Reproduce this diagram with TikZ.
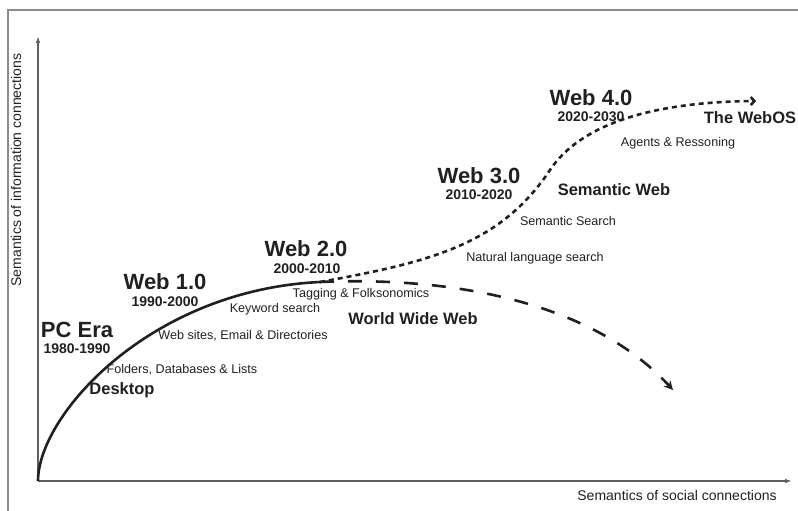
\documentclass[tikz,border=0pt]{standalone}
\usepackage{fontspec}
\setmainfont{Liberation Sans}
\usetikzlibrary{arrows.meta}

\begin{document}
\begin{tikzpicture}[
    x=1pt, y=-1pt,
    font=\fontsize{12.6}{14}\selectfont,
    >=latex,
]

\definecolor{frameCol}{RGB}{140, 140, 140}
\definecolor{axisCol}{RGB}{95, 95, 95}
\definecolor{inkCol}{RGB}{35, 31, 32}

\tikzset{
    era_label/.style  = {font=\fontsize{22}{24}\selectfont\bfseries, text=inkCol, inner sep=0pt},
    year_label/.style = {font=\fontsize{14}{16}\selectfont\bfseries, text=inkCol, inner sep=0pt},
    kind_label/.style = {font=\fontsize{16.5}{18}\selectfont\bfseries, text=inkCol, inner sep=0pt},
    item_label/.style = {font=\fontsize{12.6}{14}\selectfont, text=inkCol, inner sep=0pt},
    axis_label/.style = {font=\fontsize{14}{16}\selectfont, text=inkCol, inner sep=0pt},
    axis_line/.style  = {axisCol, line width=1.2pt, -{Latex[length=7pt, width=4.5pt]}},
    web_line/.style   = {inkCol, line width=2.6pt},
    future_line/.style = {web_line, dash pattern=on 5pt off 4pt, -{Straight Barb[length=3.5pt, width=8pt, line width=2.6pt]}},
    www_line/.style   = {web_line, dash pattern=on 14pt off 14pt, -{Stealth[length=9pt, width=9pt]}}
}

\useasboundingbox (0, 0) rectangle (798, 511);

% =========== FRAME ===========
\draw [frameCol, line width=2pt] (7.5, 511) -- (7.5, 10.5) -- (798, 10.5);

% =========== AXES ===========
\coordinate (origin) at (38, 481);
\coordinate (y_top) at (38, 36);
\coordinate (x_end) at (792, 481);

\draw [axis_line] (origin) -- (y_top);
\draw [axis_line] (origin) -- (x_end);

\node [axis_label, rotate=90] (y_lab) at (16, 170) {Semantics of information connections};
\node [axis_label] (x_lab) at (677, 495) {Semantics of social connections};

% =========== CURVES ===========
\coordinate (web2_split) at (320, 282);
\coordinate (webos_tip) at (756, 101);
\coordinate (www_tip) at (673, 390);
\coordinate (web3_bend) at (550, 170);

\draw [web_line] (origin) .. controls (38, 415) and (150, 290) .. (web2_split);
\draw [future_line] (web2_split) .. controls (430, 262) and (500, 245) .. (web3_bend)
                    .. controls (580, 125) and (650, 102) .. (webos_tip);
\draw [www_line] (web2_split) .. controls (460, 276) and (595, 305) .. (www_tip);

% =========== PC ERA ===========
\node [era_label]  (pc_era)   at (77, 330) {PC Era};
\node [year_label] (pc_years) at (77, 349) {1980-1990};
\node [item_label] (folders)  at (182, 370) {Folders, Databases \& Lists};
\node [kind_label] (desktop)  at (122, 390) {Desktop};

% =========== WEB 1.0 ===========
\node [era_label]  (web1)       at (165, 282) {Web 1.0};
\node [year_label] (web1_years) at (165, 302) {1990-2000};
\node [item_label] (websites)   at (243, 336) {Web sites, Email \& Directories};
\node [item_label] (keyword)    at (275, 309) {Keyword search};

% =========== WEB 2.0 ===========
\node [era_label]  (web2)       at (306, 249) {Web 2.0};
\node [year_label] (web2_years) at (307, 269) {2000-2010};
\node [item_label] (tagging)    at (361, 294) {Tagging \& Folksonomics};
\node [kind_label] (www)        at (413, 319) {World Wide Web};

% =========== WEB 3.0 ===========
\node [item_label] (natural)    at (535, 258) {Natural language search};
\node [era_label]  (web3)       at (479, 176) {Web 3.0};
\node [year_label] (web3_years) at (479, 195) {2010-2020};
\node [kind_label] (sem_web)    at (614, 190) {Semantic Web};
\node [item_label] (sem_search) at (568, 221) {Semantic Search};

% =========== WEB 4.0 ===========
\node [era_label]  (web4)       at (591, 98) {Web 4.0};
\node [year_label] (web4_years) at (591, 117) {2020-2030};
\node [kind_label] (webos)      at (750, 118) {The WebOS};
\node [item_label] (agents)     at (678, 143) {Agents \& Ressoning};

\end{tikzpicture}
\end{document}
